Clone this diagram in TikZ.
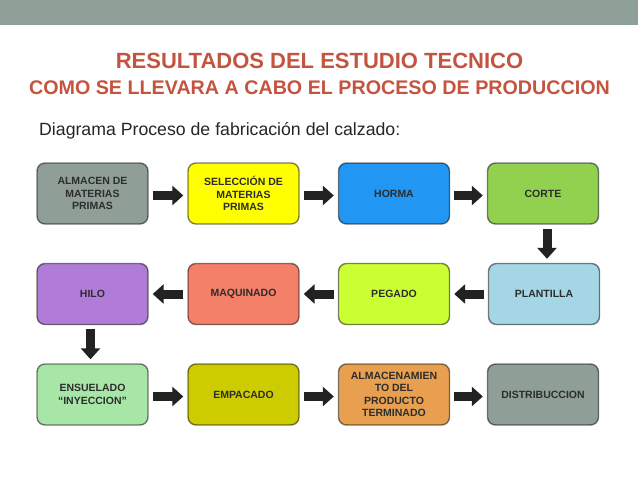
\documentclass[tikz,border=0pt]{standalone}
\usepackage{fontspec}
\setmainfont{Liberation Sans}
\usetikzlibrary{arrows.meta}
\definecolor{barcol}{RGB}{143,160,152}
\definecolor{titlecol}{RGB}{196,84,64}
\definecolor{subcol}{RGB}{38,38,38}
\definecolor{boxtext}{RGB}{45,45,45}
\definecolor{arrcol}{RGB}{34,34,34}
\definecolor{cgray}{RGB}{143,158,150}
\definecolor{cyellow}{RGB}{255,255,0}
\definecolor{cblue}{RGB}{33,150,243}
\definecolor{cgreen}{RGB}{146,208,80}
\definecolor{clblue}{RGB}{165,214,230}
\definecolor{clime}{RGB}{204,255,51}
\definecolor{csalmon}{RGB}{244,128,106}
\definecolor{cpurple}{RGB}{176,124,216}
\definecolor{clgreen}{RGB}{168,230,168}
\definecolor{colive}{RGB}{204,204,0}
\definecolor{corange}{RGB}{232,160,80}
\tikzset{
  procbox/.style={draw=black, draw opacity=0.5, line width=1.4pt, rounded corners=8pt,
    minimum width=111pt, minimum height=61pt, align=center, text=boxtext,
    font=\fontsize{10.5}{12.5}\selectfont\bfseries, inner sep=2pt},
  blk/.style={arrcol, line width=9pt, -{Triangle[width=19pt,length=11pt]}, shorten <=4pt, shorten >=4pt}
}
\begin{document}
\begin{tikzpicture}[x=1pt,y=-1pt]
\useasboundingbox (0,0) rectangle (638,479);
\fill[white] (0,0) rectangle (638,479);
\fill[barcol] (0,0) rectangle (638,25);
\node[anchor=base, text=titlecol, font=\fontsize{22}{26}\selectfont\bfseries, inner sep=0pt] (t1) at (319.5,68) {RESULTADOS DEL ESTUDIO TECNICO};
\node[anchor=base, text=titlecol, font=\fontsize{19.7}{24}\selectfont\bfseries, inner sep=0pt] (t2) at (319.5,94) {COMO SE LLEVARA A CABO EL PROCESO DE PRODUCCION};
\node[anchor=base west, text=subcol, font=\fontsize{17.7}{21}\selectfont, inner sep=0pt] (st) at (39,135) {Diagrama Proceso de fabricación del calzado:};
% row 1
\node[procbox, fill=cgray] (a1) at (92.5,193.5) {ALMACEN DE\\MATERIAS\\PRIMAS};
\node[procbox, fill=cyellow] (a2) at (243.5,193.5) {SELECCIÓN DE\\MATERIAS\\PRIMAS};
\node[procbox, fill=cblue] (a3) at (394,193.5) {HORMA};
\node[procbox, fill=cgreen] (a4) at (543,193.5) {CORTE};
% row 2
\node[procbox, fill=cpurple] (b1) at (92.5,294) {HILO};
\node[procbox, fill=csalmon] (b2) at (243.5,294) {MAQUINADO};
\node[procbox, fill=clime] (b3) at (394,294) {PEGADO};
\node[procbox, fill=clblue] (b4) at (544,294) {PLANTILLA};
% row 3
\node[procbox, fill=clgreen] (c1) at (92.5,394.5) {ENSUELADO\\“INYECCION”};
\node[procbox, fill=colive] (c2) at (243.5,394.5) {EMPACADO};
\node[procbox, fill=corange] (c3) at (394,394.5) {ALMACENAMIEN\\TO DEL\\PRODUCTO\\TERMINADO};
\node[procbox, fill=cgray] (c4) at (543,394.5) {DISTRIBUCCION};
% arrows
\draw[blk] ([yshift=-2pt]a1.east) -- ([yshift=-2pt]a2.west);
\draw[blk] ([yshift=-2pt]a2.east) -- ([yshift=-2pt]a3.west);
\draw[blk] ([yshift=-2pt]a3.east) -- ([yshift=-2pt]a4.west);
\draw[blk] ([xshift=4pt]a4.south) -- ([xshift=3pt]b4.north);
\draw[blk] (b4.west) -- (b3.east);
\draw[blk] (b3.west) -- (b2.east);
\draw[blk] (b2.west) -- (b1.east);
\draw[blk] ([xshift=-2pt]b1.south) -- ([xshift=-2pt]c1.north);
\draw[blk] ([yshift=-2pt]c1.east) -- ([yshift=-2pt]c2.west);
\draw[blk] ([yshift=-2pt]c2.east) -- ([yshift=-2pt]c3.west);
\draw[blk] ([yshift=-2pt]c3.east) -- ([yshift=-2pt]c4.west);
\end{tikzpicture}
\end{document}
